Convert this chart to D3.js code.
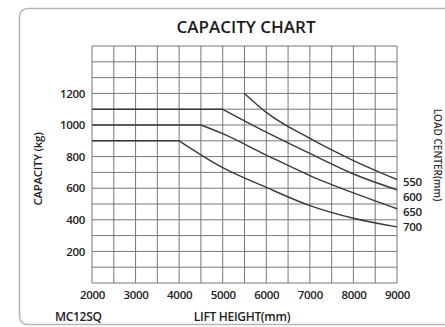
<!DOCTYPE html>
<html><head><meta charset="utf-8">
<script src="https://cdn.jsdelivr.net/npm/d3@7"></script>
<style>
html,body{margin:0;padding:0;background:#fff;}
svg{display:block;font-family:"Open Sans",sans-serif;}
</style></head>
<body><svg id="c" width="445" height="327"></svg>
<script>
const title = "CAPACITY CHART";
const xTitle = "LIFT HEIGHT(mm)";
const yTitle = "CAPACITY (kg)";
const rightTitle = "LOAD CENTER(mm)";
const model = "MC12SQ";
const xTickLabels = [2000, 3000, 4000, 5000, 6000, 7000, 8000, 9000];
const yTickLabels = [200, 400, 600, 800, 1000, 1200];
const loadCenters = ["550", "600", "650", "700"];
// flat (rated) portion for each load center: [from, to] lift height and capacity
const flatLift = [[5500, 5500], [2000, 5000], [2000, 4500], [2000, 4000]];
const flatCap = [1200, 1100, 1000, 900];
// descending curve points
const lift550 = [5500, 6000, 7000, 8000, 9000];
const cap550  = [1200, 1080, 915, 775, 655];
const lift600 = [5000, 6000, 7000, 8000, 9000];
const cap600  = [1100, 955, 820, 690, 590];
const lift650 = [4500, 5000, 6000, 7000, 8000, 9000];
const cap650  = [1000, 945, 810, 680, 570, 470];
const lift700 = [4000, 5000, 6000, 7000, 8000, 9000];
const cap700  = [900, 730, 605, 490, 410, 355];

const curveLift = [lift550, lift600, lift650, lift700];
const curveCap = [cap550, cap600, cap650, cap700];

const svg = d3.select("#c");
const L = 92, R = 397, T = 46, B = 283;
const x = d3.scaleLinear().domain([2000, 9000]).range([L, R]);
const y = d3.scaleLinear().domain([0, 1500]).range([B, T]);

// frame
svg.append("rect").attr("x", 19.5).attr("y", 8.5).attr("width", 460).attr("height", 316)
  .attr("rx", 8).attr("fill", "none").attr("stroke", "#b5b5b5").attr("stroke-width", 1.5);

// grid
const grid = svg.append("g").attr("stroke", "#777").attr("stroke-width", 1);
d3.range(2000, 9001, 500).forEach(v => {
  grid.append("line").attr("x1", x(v)).attr("x2", x(v)).attr("y1", y(0)).attr("y2", y(1500));
});
d3.range(0, 1501, 100).forEach(v => {
  grid.append("line").attr("x1", x(2000)).attr("x2", x(9000)).attr("y1", y(v)).attr("y2", y(v));
});

// axes labels
const xAxis = d3.axisBottom(x).tickValues(xTickLabels).tickSize(0).tickPadding(8).tickFormat(d3.format("d"));
const gx = svg.append("g").attr("transform", `translate(0,${B})`).call(xAxis);
gx.select(".domain").remove();
gx.selectAll("text").attr("font-size", 11.5).attr("font-weight", 600).attr("fill", "#222")
  .attr("font-family", "Open Sans").attr("letter-spacing", -0.3);

const yAxis = d3.axisLeft(y).tickValues(yTickLabels).tickSize(0).tickPadding(7).tickFormat(d3.format("d"));
const gy = svg.append("g").attr("transform", `translate(${L},0)`).call(yAxis);
gy.select(".domain").remove();
gy.selectAll("text").attr("font-size", 11.5).attr("font-weight", 600).attr("fill", "#222")
  .attr("font-family", "Open Sans").attr("letter-spacing", -0.3);

// curves
const lineFlat = d3.line().x(d => x(d[0])).y(d => y(d[1]));
const lineCurve = d3.line().x(d => x(d[0])).y(d => y(d[1])).curve(d3.curveMonotoneX);
const cg = svg.append("g").attr("fill", "none").attr("stroke", "#3a3a3a").attr("stroke-width", 1.4);
loadCenters.forEach((lc, i) => {
  const f = flatLift[i];
  if (f[0] !== f[1]) cg.append("path").attr("d", lineFlat([[f[0], flatCap[i]], [f[1], flatCap[i]]]));
  const pts = curveLift[i].map((v, j) => [v, curveCap[i][j]]);
  cg.append("path").attr("d", lineCurve(pts));
});

// load center labels
const lg = svg.append("g").attr("font-size", 11.5).attr("font-weight", 600).attr("fill", "#222");
loadCenters.forEach((lc, i) => {
  lg.append("text").attr("x", x(9000) + 6).attr("y", [182, 197, 212, 227][i]).attr("dy", "0.35em")
    .attr("letter-spacing", -0.3).text(lc);
});

// titles
svg.append("text").attr("x", 246).attr("y", 33).attr("text-anchor", "middle")
  .attr("font-size", 17).attr("font-weight", 600).attr("fill", "#1a1a1a").text(title);
svg.append("text").attr("x", 242).attr("y", 321).attr("text-anchor", "middle")
  .attr("font-size", 12).attr("font-weight", 600).attr("fill", "#222").attr("letter-spacing", -0.3).text(xTitle);
svg.append("text").attr("x", 55).attr("y", 321)
  .attr("font-size", 12).attr("font-weight", 600).attr("fill", "#222").attr("letter-spacing", -0.3).text(model);
svg.append("text").attr("transform", "translate(42,169) rotate(-90)").attr("text-anchor", "middle")
  .attr("font-size", 11.5).attr("font-weight", 600).attr("fill", "#222").attr("letter-spacing", -0.3).text(yTitle);
svg.append("text").attr("transform", "translate(434,155) rotate(90)").attr("text-anchor", "middle")
  .attr("font-size", 10).attr("font-weight", 600).attr("fill", "#333").text(rightTitle);
</script></body></html>
